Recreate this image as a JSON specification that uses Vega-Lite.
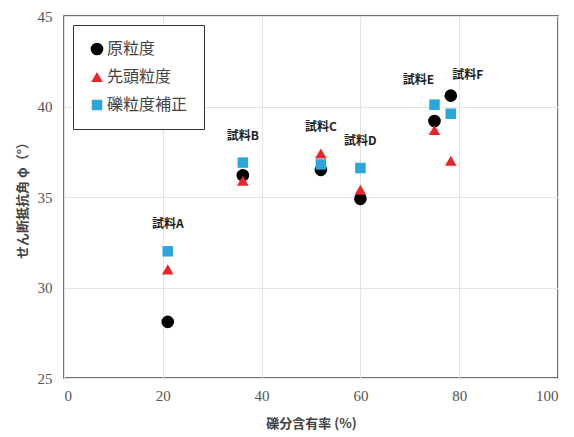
{
  "$schema": "https://vega.github.io/schema/vega-lite/v6.json",
  "width": 494,
  "height": 362,
  "autosize": {"type": "none"},
  "padding": {"left": 64, "top": 16, "right": 16, "bottom": 59},
  "background": "white",
  "config": {
    "font": "Noto Sans CJK JP",
    "view": {"stroke": "#444", "strokeWidth": 1.5},
    "axis": {
      "labelFont": "Liberation Sans Narrow",
      "labelFontSize": 15,
      "labelColor": "#555",
      "titleFont": "Noto Sans CJK JP",
      "titleFontSize": 13,
      "titleColor": "#444",
      "titleFontWeight": "bold",
      "gridColor": "#e4e4e4",
      "gridWidth": 1,
      "domain": false,
      "ticks": false
    }
  },
  "data": {
    "values": [
      {"sample": "試料A", "type": "原粒度", "x": 21, "y": 28.1},
      {"sample": "試料A", "type": "先頭粒度", "x": 21, "y": 31.0},
      {"sample": "試料A", "type": "礫粒度補正", "x": 21, "y": 32.0},
      {"sample": "試料B", "type": "原粒度", "x": 36.2, "y": 36.2},
      {"sample": "試料B", "type": "先頭粒度", "x": 36.2, "y": 35.9},
      {"sample": "試料B", "type": "礫粒度補正", "x": 36.2, "y": 36.9},
      {"sample": "試料C", "type": "原粒度", "x": 52, "y": 36.5},
      {"sample": "試料C", "type": "先頭粒度", "x": 52, "y": 37.4},
      {"sample": "試料C", "type": "礫粒度補正", "x": 52, "y": 36.8},
      {"sample": "試料D", "type": "原粒度", "x": 60, "y": 34.9},
      {"sample": "試料D", "type": "先頭粒度", "x": 60, "y": 35.4},
      {"sample": "試料D", "type": "礫粒度補正", "x": 60, "y": 36.6},
      {"sample": "試料E", "type": "原粒度", "x": 75, "y": 39.2},
      {"sample": "試料E", "type": "先頭粒度", "x": 75, "y": 38.7},
      {"sample": "試料E", "type": "礫粒度補正", "x": 75, "y": 40.1},
      {"sample": "試料F", "type": "原粒度", "x": 78.3, "y": 40.6},
      {"sample": "試料F", "type": "先頭粒度", "x": 78.3, "y": 37.0},
      {"sample": "試料F", "type": "礫粒度補正", "x": 78.3, "y": 39.6}
    ]
  },
  "layer": [
    {
      "mark": {"type": "point", "filled": true, "opacity": 1},
      "encoding": {
        "x": {"field": "x", "type": "quantitative", "scale": {"domain": [0, 100], "nice": false}, "axis": {"values": [0, 20, 40, 60, 80, 100], "title": "礫分含有率 (%)", "labelPadding": 10, "titlePadding": 14}},
        "y": {"field": "y", "type": "quantitative", "scale": {"domain": [25, 45], "nice": false, "zero": false}, "axis": {"values": [25, 30, 35, 40, 45], "title": "せん断抵抗角 φ（°）", "labelPadding": 12, "titlePadding": 8}},
        "color": {"field": "type", "type": "nominal", "scale": {"domain": ["原粒度", "先頭粒度", "礫粒度補正"], "range": ["#000000", "#e8262a", "#2aa6dc"]},
          "legend": {"title": null, "orient": "top-left", "offset": 9, "padding": 16, "strokeColor": "#333", "fillColor": "white", "labelFontSize": 16, "labelColor": "#444", "labelFont": "Noto Sans CJK JP", "symbolSize": 110, "rowPadding": 12, "labelOffset": 2, "symbolStrokeWidth": 0,
            "encode": {"legend": {"update": {"strokeWidth": {"value": 1.5}}}}}},
        "shape": {"field": "type", "type": "nominal", "scale": {"domain": ["原粒度", "先頭粒度", "礫粒度補正"], "range": ["circle", "triangle-up", "square"]}},
        "size": {"field": "type", "type": "nominal", "scale": {"domain": ["原粒度", "先頭粒度", "礫粒度補正"], "range": [160, 110, 130]}, "legend": null}
      }
    },
    {
      "transform": [
        {"aggregate": [{"op": "mean", "field": "x", "as": "lx"}, {"op": "max", "field": "y", "as": "ly"}], "groupby": ["sample"]},
        {"filter": "datum.sample !== '試料E' && datum.sample !== '試料F'"}
      ],
      "mark": {"type": "text", "dy": -27, "fontSize": 12, "fontWeight": "bold", "color": "#222"},
      "encoding": {
        "x": {"field": "lx", "type": "quantitative"},
        "y": {"field": "ly", "type": "quantitative"},
        "text": {"field": "sample"}
      }
    },
    {
      "transform": [
        {"aggregate": [{"op": "mean", "field": "x", "as": "lx"}, {"op": "max", "field": "y", "as": "ly"}], "groupby": ["sample"]},
        {"filter": "datum.sample === '試料E'"}
      ],
      "mark": {"type": "text", "dy": -25, "dx": -16, "fontSize": 12, "fontWeight": "bold", "color": "#222"},
      "encoding": {
        "x": {"field": "lx", "type": "quantitative"},
        "y": {"field": "ly", "type": "quantitative"},
        "text": {"field": "sample"}
      }
    },
    {
      "transform": [
        {"aggregate": [{"op": "mean", "field": "x", "as": "lx"}, {"op": "max", "field": "y", "as": "ly"}], "groupby": ["sample"]},
        {"filter": "datum.sample === '試料F'"}
      ],
      "mark": {"type": "text", "dy": -21, "dx": 17, "fontSize": 12, "fontWeight": "bold", "color": "#222"},
      "encoding": {
        "x": {"field": "lx", "type": "quantitative"},
        "y": {"field": "ly", "type": "quantitative"},
        "text": {"field": "sample"}
      }
    }
  ]
}
